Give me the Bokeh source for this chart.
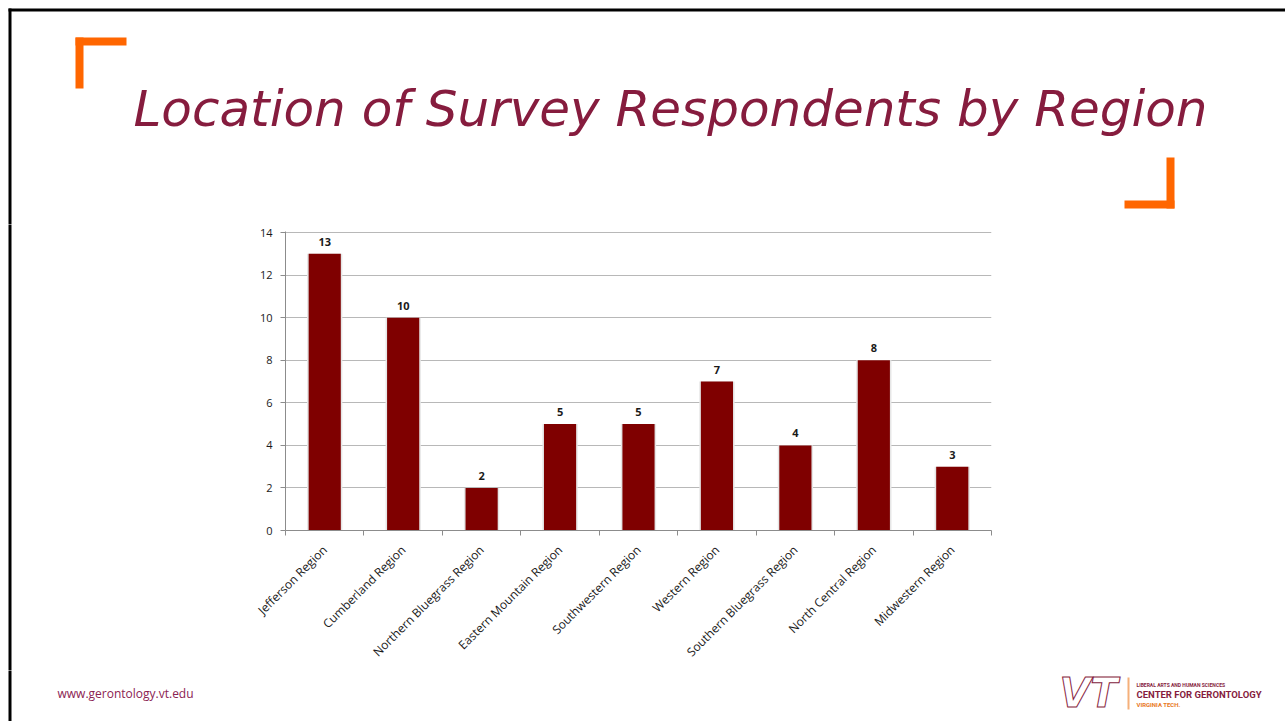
from bokeh.plotting import figure
from bokeh.layouts import column, row
from bokeh.models import Range1d, FixedTicker, ColumnDataSource, LabelSet, Div
from bokeh.core.properties import value
from bokeh.embed import file_html
from bokeh.resources import INLINE
import math

categories = ["Jefferson Region", "Cumberland Region", "Northern Bluegrass Region",
              "Eastern Mountain Region", "Southwestern Region", "Western Region",
              "Southern Bluegrass Region", "North Central Region", "Midwestern Region"]
respondents = [13, 10, 2, 5, 5, 7, 4, 8, 3]
y_ticks = [0, 2, 4, 6, 8, 10, 12, 14]

PAGE_W, PAGE_H = 1285, 721
HEAD_H = 224          # header strip height
LEFT_W = 230          # left strip width
FOOT_H = 51           # footer height
CHART_W = PAGE_W - LEFT_W
CHART_H = PAGE_H - HEAD_H - FOOT_H
# chart frame in page coords
FL, FR, FT, FB = 285, 991, 232, 530

MAROON = "#861c3e"
ORANGE = "#ff6600"


def no_align(f):
    try:
        f.frame_align = False
        return True
    except Exception:
        return False


def deco(w, h, x0, y0):
    f = figure(width=w, height=h, output_backend="svg", toolbar_location=None,
               x_range=Range1d(x0, x0 + w), y_range=Range1d(y0 + h, y0),
               x_axis_type=None, y_axis_type=None, min_border=0,
               background_fill_color="white", border_fill_color="white")
    f.outline_line_color = None
    f.grid.visible = False
    no_align(f)
    return f


# ---------- header ----------
head = deco(PAGE_W, HEAD_H, 0, 0)
head.quad(left=[8, 8, 75, 75, 1124, 1166], right=[PAGE_W, 11, 126, 83, 1174, 1174],
          top=[8, 8, 37, 37, 200, 157], bottom=[11, HEAD_H + 2, 45, 88, 208, 208],
          fill_color=["black", "black", ORANGE, ORANGE, ORANGE, ORANGE], line_color=None)
head.text(x=[670], y=[108], text=["Location of Survey Respondents by Region"],
          text_font=value("DejaVu Sans"), text_font_style="italic", text_font_size="50px",
          text_color=MAROON, text_align="center", text_baseline="middle")

# ---------- left strip ----------
left = deco(LEFT_W, CHART_H, 0, HEAD_H)
left.quad(left=[8], right=[11], top=[HEAD_H - 2], bottom=[HEAD_H + CHART_H + 2], fill_color="black", line_color=None)
if not no_align(left):
    left = Div(width=LEFT_W, height=CHART_H,
               text='<div style="position:absolute;left:8px;top:0;width:3px;height:%dpx;background:black"></div>' % CHART_H)

# ---------- chart ----------
p = figure(width=CHART_W, height=CHART_H, output_backend="svg", toolbar_location=None,
           x_range=Range1d(0, len(categories)), y_range=Range1d(0, 14.05),
           min_border_left=FL - LEFT_W, min_border_right=PAGE_W - FR,
           min_border_top=FT - 1 - HEAD_H, min_border_bottom=(HEAD_H + CHART_H) - FB,
           background_fill_color="white", border_fill_color="white")
p.outline_line_color = None
no_align(p)

xs = [i + 0.5 for i in range(len(categories))]
src = ColumnDataSource(dict(x=xs, top=respondents, lab=[str(v) for v in respondents]))

p.vbar(x="x", top="top", width=0.45, bottom=0, source=src, fill_color="#e6e6e6", line_color=None)
p.vbar(x="x", top="top", width=0.41, bottom=0, source=src, fill_color="#7f0000", line_color=None)

p.add_layout(LabelSet(x="x", y="top", text="lab", source=src, y_offset=8, text_align="center",
                      text_baseline="bottom", text_font=value("Open Sans"), text_font_style="bold",
                      text_font_size="11px", text_color="#1a1a1a"))

p.xaxis.ticker = FixedTicker(ticks=xs, minor_ticks=list(range(len(categories) + 1)))
p.xaxis.major_label_overrides = {x: c for x, c in zip(xs, categories)}
p.xaxis.major_label_orientation = math.pi / 4
p.xaxis.major_tick_out = 0
p.xaxis.major_tick_in = 0
p.xaxis.minor_tick_out = 5
p.xaxis.minor_tick_in = 0
p.xaxis.minor_tick_line_color = "#8c8c8c"
p.xaxis.axis_line_color = "#8c8c8c"
p.xaxis.major_label_text_font = "Open Sans"
p.xaxis.major_label_text_font_size = "12px"
p.xaxis.major_label_text_color = "#1a1a1a"
p.xaxis.major_label_standoff = 12

p.yaxis.ticker = FixedTicker(ticks=y_ticks)
p.yaxis.major_tick_out = 5
p.yaxis.major_tick_in = 0
p.yaxis.minor_tick_line_color = None
p.yaxis.axis_line_color = "#8c8c8c"
p.yaxis.major_tick_line_color = "#8c8c8c"
p.yaxis.major_label_text_font = "Open Sans"
p.yaxis.major_label_text_font_size = "11px"
p.yaxis.major_label_text_color = "#1a1a1a"
p.yaxis.major_label_standoff = 8

p.xgrid.grid_line_color = None
p.ygrid.ticker = FixedTicker(ticks=y_ticks)
p.ygrid.grid_line_color = "#b8b8b8"

# ---------- footer (url + logo) ----------
foot = deco(PAGE_W, FOOT_H, 0, PAGE_H - FOOT_H)
foot.quad(left=[8, 1127], right=[11, 1129], top=[PAGE_H - FOOT_H - 2, 677], bottom=[PAGE_H, 709],
          fill_color=["black", "#f5b07a"], line_color=None)
foot.text(x=[57], y=[693], text=["www.gerontology.vt.edu"], text_font=value("Open Sans"),
          text_font_size="12px", text_color="#8b2252", text_align="left", text_baseline="middle")
foot.text(x=[1088], y=[692], text=["VT"], text_font=value("DejaVu Sans"), text_font_style="bold italic",
          text_font_size="40px", text_color="white", text_outline_color=MAROON,
          text_align="center", text_baseline="middle")
foot.text(x=[1136, 1136, 1136], y=[684, 694, 704],
          text=["LIBERAL ARTS AND HUMAN SCIENCES", "CENTER FOR GERONTOLOGY", "VIRGINIA TECH."],
          text_font=value("Roboto"), text_font_style="bold",
          text_font_size=["5px", "9.5px", "6px"], text_color=[MAROON, MAROON, "#e87722"],
          text_align="left", text_baseline="middle")

layout = column(head, row(left, p), foot)
open("out.html", "w").write(file_html(layout, INLINE))
